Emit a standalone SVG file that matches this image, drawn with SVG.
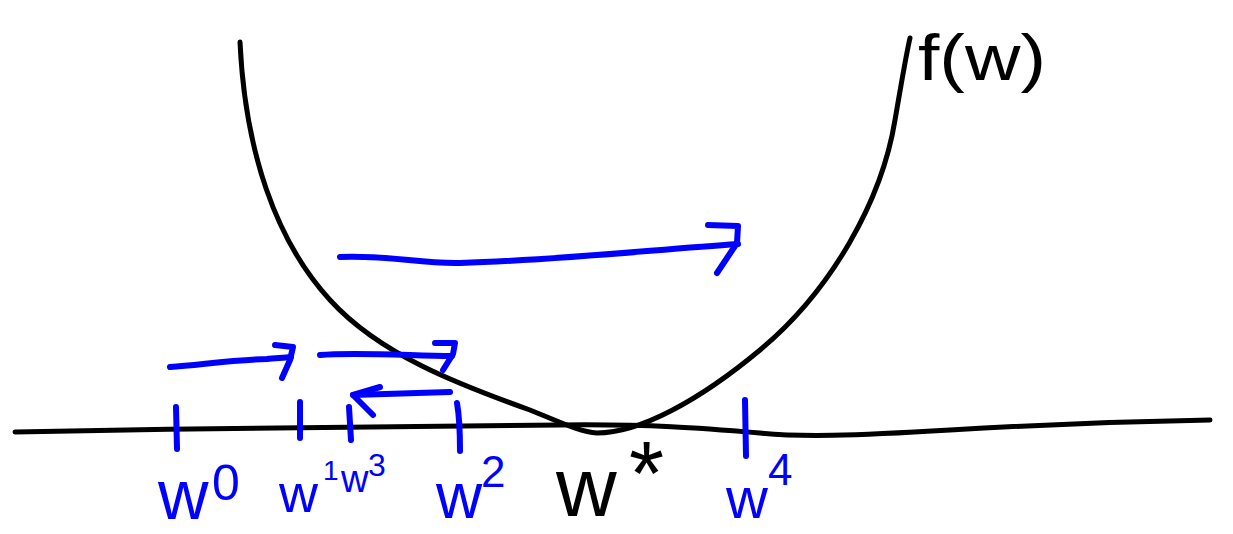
<svg xmlns="http://www.w3.org/2000/svg" width="1233" height="534" viewBox="0 0 1233 534">
<style>
.ink{fill:none;stroke:#000;stroke-width:5;stroke-linecap:round;stroke-linejoin:round}
.blue{fill:none;stroke:#0000ff;stroke-width:6;stroke-linecap:round;stroke-linejoin:round}
.lb{font-family:"Liberation Sans",Arial,sans-serif;fill:#0000ff}
.lk{font-family:"Liberation Sans",Arial,sans-serif;fill:#000}
</style>
<rect width="1233" height="534" fill="#fff"/>
<g id="axis">
<path class="ink" d="M15,432 C200,428 400,426 560,425 C650,424 700,428 760,433 C800,437 850,436 950,430 C1050,424 1150,421 1210,420"/>
</g>
<g id="curve">
<path class="ink" d="M240,42 C245,150 275,240 330,300 C380,355 460,385 530,410 C560,422 580,432 597,433 C640,433 700,400 760,350 C832,290 882,200 895,120 C902,80 906,55 910,38"/>
<text class="lk" x="918" y="80" font-size="64" textLength="128" lengthAdjust="spacingAndGlyphs">f(w)</text>
</g>
<g id="ticks">
<path class="blue" d="M176,407 L177,449"/>
<path class="blue" d="M300,402 L300,438"/>
<path class="blue" d="M349,407 L351,440"/>
<path class="blue" d="M457,403 C460,420 460,440 460,451"/>
<path class="blue" d="M745,400 L746,456"/>
</g>
<g id="connectors">
<path class="blue" d="M340,257 C390,255 420,264 460,263 C560,260 650,250 738,244"/>
<path class="blue" d="M708,225 L738,226 L737,243 L717,273"/>
<path class="blue" d="M170,367 C200,365 230,360 267,359 C275,358 283,358 291,357"/>
<path class="blue" d="M275,345 L293,347 L290,360 L282,378"/>
<path class="blue" d="M320,355 C350,352 400,355 452,356"/>
<path class="blue" d="M435,343 L455,343 L453,354 L443,370"/>
<path class="blue" d="M450,392 L353,395"/>
<path class="blue" d="M380,387 L353,395 L373,415"/>
</g>
<g id="w0">
<text class="lb" x="158" y="519" font-size="70">w<tspan x="212" y="500" font-size="50">0</tspan></text>
</g>
<g id="w1">
<text class="lb" x="279" y="512" font-size="54">w<tspan x="323" y="480" font-size="28">1</tspan></text>
</g>
<g id="w3">
<text class="lb" x="341" y="492" font-size="38">w<tspan x="368" y="476" font-size="32">3</tspan></text>
</g>
<g id="w2">
<text class="lb" x="436" y="518" font-size="64">w<tspan x="481" y="487" font-size="44">2</tspan></text>
</g>
<g id="wstar">
<text class="lk" x="556" y="516" font-size="84">w<tspan x="629" y="505" font-size="90">*</tspan></text>
</g>
<g id="w4">
<text class="lb" x="726" y="518" font-size="58">w<tspan x="768" y="485" font-size="44">4</tspan></text>
</g>
</svg>
